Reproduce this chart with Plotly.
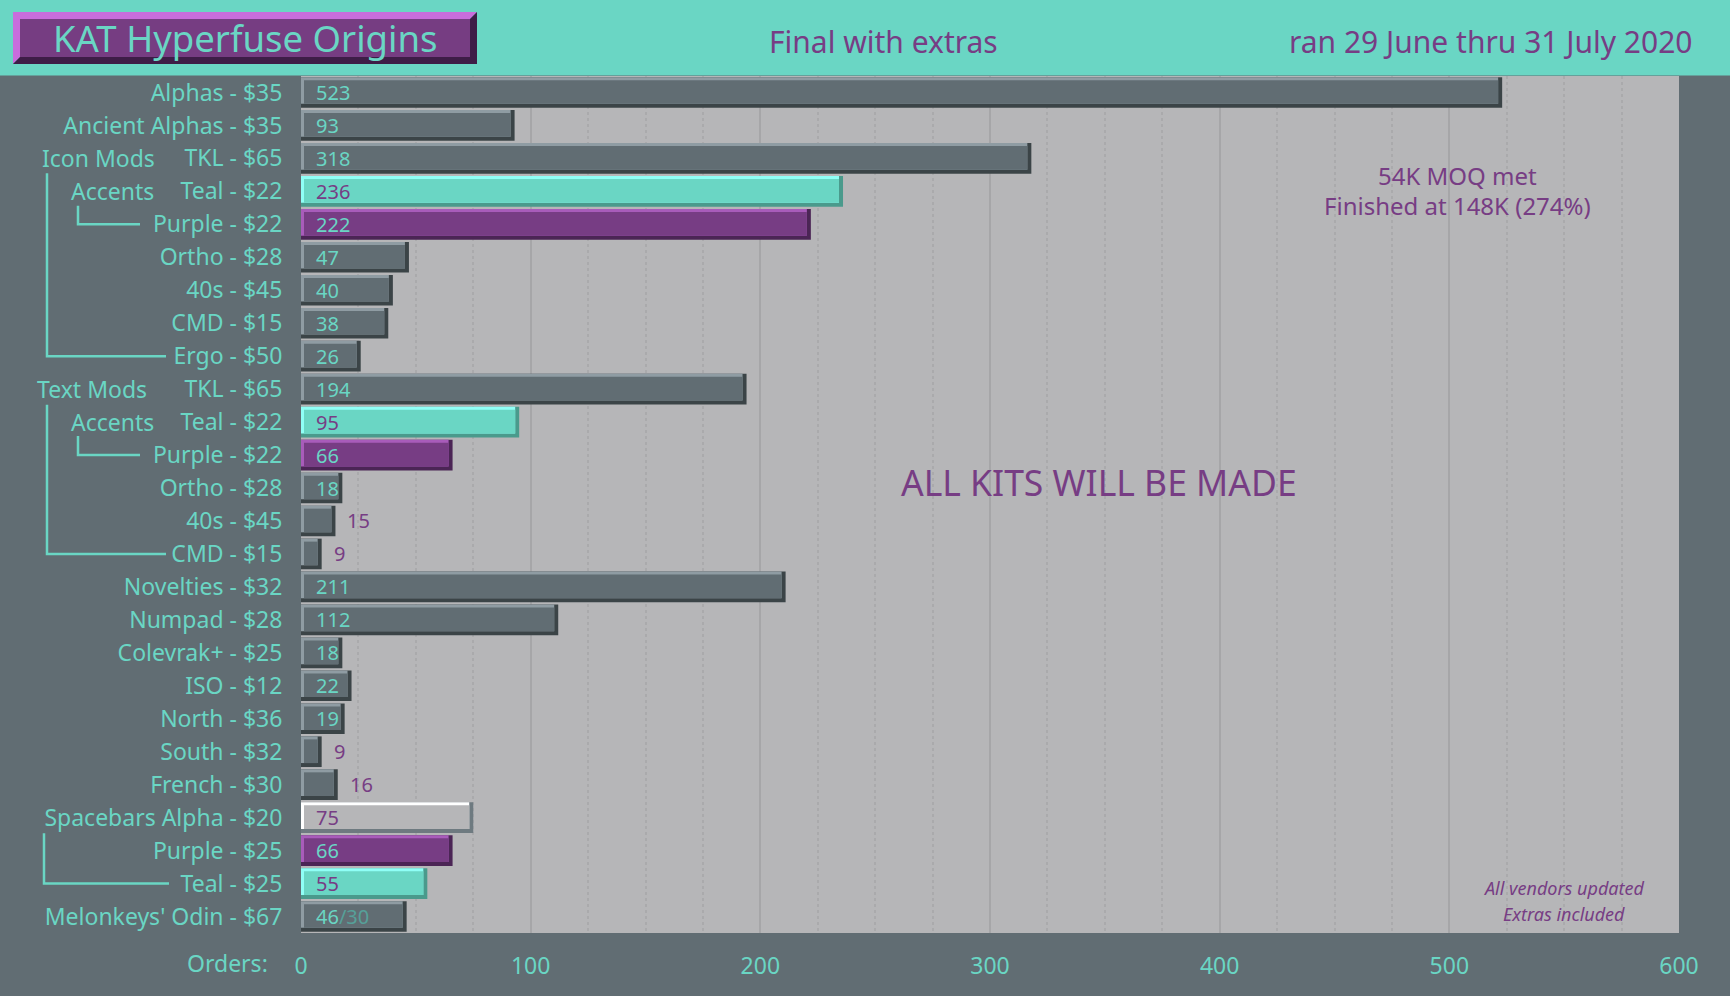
import plotly.graph_objects as go

# ---------------- data ----------------
categories = ["Alphas - $35", "Ancient Alphas - $35", "TKL - $65", "Teal - $22", "Purple - $22",
              "Ortho - $28", "40s - $45", "CMD - $15", "Ergo - $50", "TKL - $65",
              "Teal - $22", "Purple - $22", "Ortho - $28", "40s - $45", "CMD - $15",
              "Novelties - $32", "Numpad - $28", "Colevrak+ - $25", "ISO - $12", "North - $36",
              "South - $32", "French - $30", "Spacebars Alpha - $20", "Purple - $25", "Teal - $25",
              "Melonkeys' Odin - $67"]
values = [523, 93, 318, 236, 222, 47, 40, 38, 26, 194, 95, 66, 18, 15, 9,
          211, 112, 18, 22, 19, 9, 16, 75, 66, 55, 46]
kinds = ["g", "g", "g", "t", "p", "g", "g", "g", "g", "g", "t", "p", "g", "g", "g",
         "g", "g", "g", "g", "g", "g", "g", "w", "p", "t", "g"]
extras = ["", "", "", "", "", "", "", "", "", "", "", "", "", "", "",
          "", "", "", "", "", "", "", "", "", "", "30"]
group_labels = ["Icon Mods", "Accents", "Text Mods", "Accents"]
group_rows = [2, 3, 9, 10]
x_ticks = [0, 100, 200, 300, 400, 500, 600]

# ---------------- style ----------------
W, H = 1730, 996
L, R, T, B = 301, 51, 76, 63
PW, PH = W - L - R, H - T - B
TEAL = "#6ad6c4"
PURPLE = "#773d84"
SLATE = "#616d73"
PLOTBG = "#b6b6b8"
FONT = "Noto Sans, Open Sans, DejaVu Sans, sans-serif"

palette = {
    "g": dict(fill="#616d73", hi="#8f9ca3", sh="#3b4447", lab=TEAL),
    "t": dict(fill="#6ad6c4", hi="#8ffff6", sh="#4a9a8c", lab=PURPLE),
    "p": dict(fill="#773d84", hi="#a85cba", sh="#4b2555", lab=TEAL),
    "w": dict(fill="#b6b6b8", hi="#ffffff", sh="#6e7a80", lab=PURPLE),
}


def xp(px):
    return (px - L) / PW


def yp(py):
    return (H - B - py) / PH


n = len(values)
ys = list(range(n))
XMAX = 600
BW = 0.93
ux = PW / XMAX
uy = PH / n
hx, sx = 3 / ux, 4 / ux
hy, sy = 3 / uy, 4 / uy

fig = go.Figure()
# shadow layer
fig.add_bar(y=ys, x=values, orientation="h", base=0, width=BW, offset=-BW / 2,
            marker=dict(color=[palette[k]["sh"] for k in kinds], line_width=0),
            hoverinfo="skip", showlegend=False)
# highlight layer
fig.add_bar(y=ys, x=[v - sx for v in values], orientation="h", base=0, width=BW - sy, offset=-BW / 2,
            marker=dict(color=[palette[k]["hi"] for k in kinds], line_width=0),
            hoverinfo="skip", showlegend=False)
# face layer
fig.add_bar(y=ys, x=[v - sx - hx for v in values], orientation="h", base=hx,
            width=BW - hy - sy, offset=-BW / 2 + hy,
            marker=dict(color=[palette[k]["fill"] for k in kinds], line_width=0),
            hovertemplate="%{y}: %{x}<extra></extra>", showlegend=False)

annotations = []
# value labels
for i, (v, k, ex) in enumerate(zip(values, kinds, extras)):
    inside = v >= 18
    txt = str(v)
    if ex:
        txt += "<span style='color:#56a099'>/" + ex + "</span>"
    annotations.append(dict(
        x=0 if inside else v, y=i, xref="x", yref="y", text=txt, showarrow=False,
        xanchor="left", yanchor="middle", xshift=13 if inside else 10,
        font=dict(family=FONT, size=20, color=palette[k]["lab"] if inside else PURPLE)))

# group labels left of axis
group_x = [40, 69, 35, 69]
for lab, r, gx in zip(group_labels, group_rows, group_x):
    annotations.append(dict(x=xp(gx), y=r, xref="paper", yref="y", text=lab, showarrow=False,
                            xanchor="left", yanchor="middle",
                            font=dict(family=FONT, size=23, color=TEAL)))


def note(text, px, py, size, color, xanchor="center", style="normal"):
    return dict(x=xp(px), y=yp(py), xref="paper", yref="paper", text=text, showarrow=False,
                xanchor=xanchor, yanchor="middle",
                font=dict(family=FONT, size=size, color=color, style=style))


annotations += [
    note("KAT Hyperfuse Origins", 245, 38, 36.5, TEAL),
    note("Final with extras", 883, 42, 30, PURPLE),
    note("ran 29 June thru 31 July 2020", 1695, 42, 30, PURPLE, xanchor="right"),
    note("54K MOQ met", 1457, 175, 24, PURPLE),
    note("Finished at 148K (274%)", 1457, 206, 24, PURPLE),
    note("ALL KITS WILL BE MADE", 1099, 482, 35.5, PURPLE),
    note("All vendors updated", 1564, 888, 18, PURPLE, style="italic"),
    note("Extras included", 1564, 914, 18, PURPLE, style="italic"),
    note("Orders:", 270, 963, 23, TEAL, xanchor="right"),
]

shapes = []
# header band
shapes.append(dict(type="rect", xref="paper", yref="paper", x0=xp(-5), x1=xp(W + 5),
                   y0=yp(75.5), y1=yp(-5), fillcolor=TEAL, line_width=0, layer="below"))
# title box with bevel
bx0, bx1, by0, by1, bb = 13, 477, 12, 64, 7


def path(pts):
    return "M " + " L ".join(f"{xp(a):.5f},{yp(b):.5f}" for a, b in pts) + " Z"


shapes.append(dict(type="path", xref="paper", yref="paper", line_width=0, fillcolor="#c86ddc",
                   path=path([(bx0, by0), (bx1, by0), (bx1 - bb, by0 + bb), (bx0 + bb, by0 + bb),
                              (bx0 + bb, by1 - bb), (bx0, by1)])))
shapes.append(dict(type="path", xref="paper", yref="paper", line_width=0, fillcolor="#3e1d47",
                   path=path([(bx1, by0), (bx1, by1), (bx0, by1), (bx0 + bb, by1 - bb),
                              (bx1 - bb, by1 - bb), (bx1 - bb, by0 + bb)])))
shapes.append(dict(type="rect", xref="paper", yref="paper", line_width=0, fillcolor="#763d82",
                   x0=xp(bx0 + bb), x1=xp(bx1 - bb), y0=yp(by1 - bb), y1=yp(by0 + bb)))

# tree connectors (x pixel, start row, end row, end x pixel)
connectors = [(47, 2.45, 8, 166), (78, 3.44, 4, 140), (47, 9.47, 14, 166),
              (78, 10.42, 11, 140), (44, 22.47, 24, 169)]
for cx, r0, r1, ex in connectors:
    shapes.append(dict(type="path", xref="paper", yref="y",
                       path=f"M {xp(cx):.5f},{r0} L {xp(cx):.5f},{r1} L {xp(ex):.5f},{r1}",
                       line=dict(color=TEAL, width=2.5)))

fig.update_layout(
    width=W, height=H,
    margin=dict(l=L, r=R, t=T, b=B, pad=0),
    paper_bgcolor=SLATE, plot_bgcolor=PLOTBG,
    barmode="overlay",
    showlegend=False,
    xaxis=dict(range=[0, XMAX], tickvals=x_ticks, showgrid=True, gridcolor="#a6a6a8", gridwidth=2,
               zeroline=False, ticks="outside", ticklen=12, tickcolor="rgba(0,0,0,0)",
               tickfont=dict(family=FONT, size=23, color=TEAL),
               minor=dict(dtick=25, tick0=0, showgrid=True, gridcolor="#aaaaac", griddash="dot",
                          gridwidth=1.5)),
    yaxis=dict(range=[n - 0.5, -0.5], tickvals=ys, ticktext=categories, showgrid=False,
               zeroline=False, ticks="outside", ticklen=13, tickcolor="rgba(0,0,0,0)",
               tickfont=dict(family=FONT, size=23, color=TEAL)),
    annotations=annotations,
    shapes=shapes,
)

fig.write_html("out.html", config={"displayModeBar": False},
               post_script="document.body.style.margin='0';")
